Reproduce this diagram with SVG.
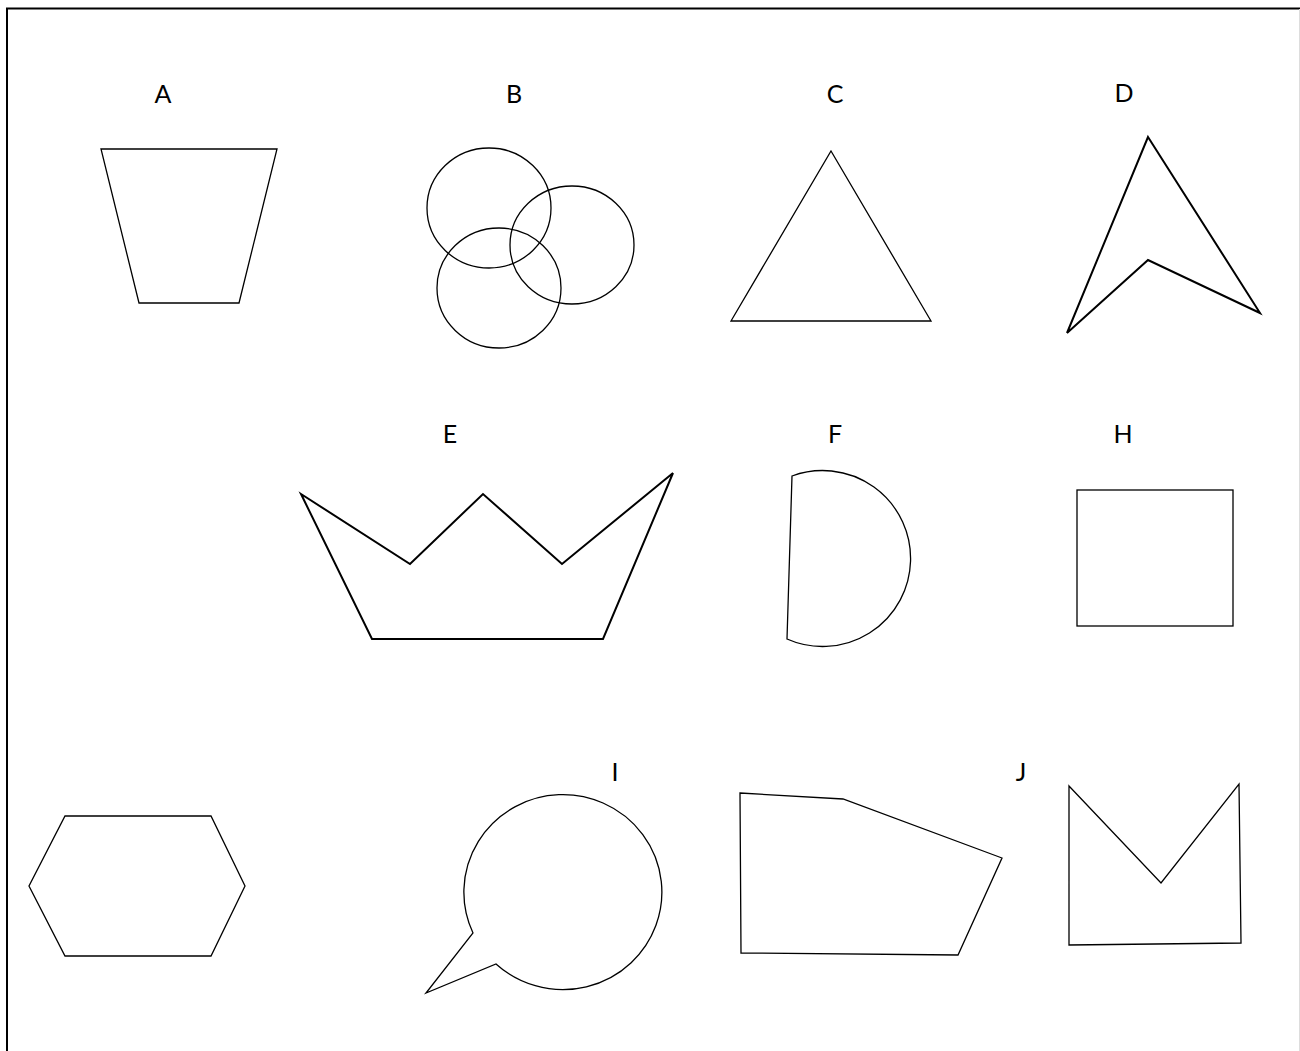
<svg xmlns="http://www.w3.org/2000/svg" width="1300" height="1051" viewBox="0 0 1300 1051">
<style>
.s{fill:none;stroke:#000;stroke-width:1.3;stroke-linejoin:miter}
.t{fill:none;stroke:#000;stroke-width:2;stroke-linejoin:miter}
.l{font-family:Lato,"Liberation Sans",Arial,sans-serif;font-size:25px;fill:#000;text-anchor:middle}
</style>
<rect width="1300" height="1051" fill="#fff"/>
<g id="frame">
<line x1="6" y1="8.5" x2="1300" y2="8.5" stroke="#000" stroke-width="2"/>
<line x1="7" y1="8" x2="7" y2="1051" stroke="#000" stroke-width="2"/>
<line x1="1299.5" y1="9" x2="1299.5" y2="1051" stroke="#ddd" stroke-width="1"/>
</g>
<g id="A"><text class="l" x="163" y="103">A</text><polygon class="s" points="101,149 277,149 239,303 139,303"/></g>
<g id="B"><text class="l" x="514" y="103">B</text>
<ellipse class="s" cx="489" cy="208" rx="62" ry="60"/>
<ellipse class="s" cx="572" cy="245" rx="62" ry="59"/>
<ellipse class="s" cx="499" cy="288" rx="62" ry="60"/></g>
<g id="C"><text class="l" x="835" y="103">C</text><polygon class="s" points="831,151 931,321 731,321"/></g>
<g id="D"><text class="l" x="1124" y="102">D</text><polygon class="t" points="1148,137 1260,313 1148,260 1067,333"/></g>
<g id="E"><text class="l" x="450" y="443">E</text><polygon class="t" points="301,494 410,564 483,494 562,564 673,473 603,639 372,639"/></g>
<g id="F"><text class="l" x="835" y="443">F</text><path class="s" d="M792,476 A88,88 0 1,1 787,639 Z"/></g>
<g id="H"><text class="l" x="1123" y="443">H</text><rect class="s" x="1077" y="490" width="156" height="136"/></g>
<g id="hexagon"><polygon class="s" points="65,816 211,816 245,886 211,956 65,956 29,886"/></g>
<g id="I"><text class="l" x="615" y="781">I</text><path class="s" d="M473,933 A99,97.5 0 1,1 496,964 L426,993 Z"/></g>
<g id="pentagon"><polygon class="s" points="740,793 843,799 1002,858 958,955 741,953"/></g>
<g id="J"><text class="l" x="1021" y="781">J</text><polygon class="s" points="1069,786 1161,883 1239,784 1241,943 1069,945"/></g>
<g id="connectors"></g>
</svg>
